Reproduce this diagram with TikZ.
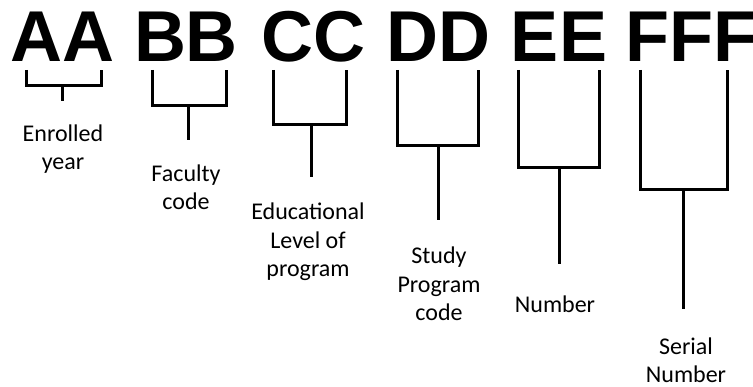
\documentclass[tikz,border=0pt]{standalone}
\usepackage{fontspec}
\setmainfont{Carlito}
\newfontfamily\codefont{Liberation Sans}
\begin{document}
\begin{tikzpicture}[x=1pt,y=-1pt,
  codetext/.style={font=\codefont\bfseries\fontsize{72}{72}\selectfont, inner sep=0pt, anchor=base},
  lbl/.style={font=\fontsize{24}{28.5}\selectfont, align=center, inner sep=0pt, anchor=base},
  brk/.style={line width=3pt, line join=miter, line cap=butt}]
\useasboundingbox (0,0) rectangle (753,387);
% code letters
\node[codetext] (aa) at (62.5,62) {AA};
\node[codetext] (bb) at (186,62) {BB};
\node[codetext] (cc) at (313.5,62) {CC};
\node[codetext] (dd) at (438.5,62) {DD};
\node[codetext] (ee) at (559,62) {EE};
\node[codetext] (ff) at (691.5,62) {FFF};
% brackets: left, right, bar height, stem x, stem bottom
\foreach \n/\l/\r/\h/\s/\b in {a/26/101/86/62/101, b/152/226/106/188/140, c/273/346/125/311/177, d/397/478/146/438/220, e/518/599/168/559/264, f/640/727/190/683/309}{
  \coordinate (\n L) at (\l,70);
  \coordinate (\n R) at (\r,70);
  \coordinate (\n T) at (\s,\h);
  \coordinate (\n B) at (\s,\b);
  \draw[brk] (\n L) |- (\n T) -| (\n R);
  \draw[brk] (\n T) -- (\n B);
}
% labels (base anchor = baseline of last line)
\node[lbl] (la) at (63,170) {Enrolled\\year};
\node[lbl] (lb) at (186,210) {Faculty\\code};
\node[lbl] (lc) at (308,277) {Educational\\Level of\\program};
\node[lbl] (ld) at (439,321) {Study\\Program\\code};
\node[lbl] (le) at (555,313) {Number};
\node[lbl] (lf) at (686,383) {Serial\\Number};
\end{tikzpicture}
\end{document}
